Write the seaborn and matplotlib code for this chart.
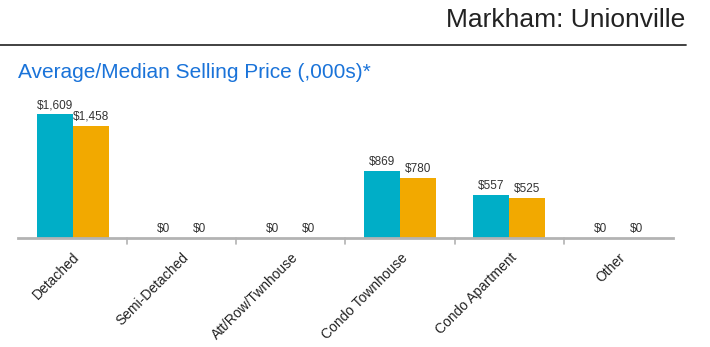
import matplotlib
matplotlib.use("Agg")
import matplotlib.pyplot as plt
import seaborn as sns
import pandas as pd
from matplotlib.lines import Line2D

categories = ["Detached", "Semi-Detached", "Att/Row/Twnhouse", "Condo Townhouse", "Condo Apartment", "Other"]
average_price = [1609, 0, 0, 869, 557, 0]
median_price = [1458, 0, 0, 780, 525, 0]
series_names = ["Average", "Median"]
title_text = "Markham: Unionville"
subtitle_text = "Average/Median Selling Price (,000s)*"

sns.set_theme(style="white")
plt.rcParams['font.family'] = ['Liberation Sans', 'DejaVu Sans']

df = pd.DataFrame({
    "category": categories * 2,
    "value": average_price + median_price,
    "series": [series_names[0]] * len(categories) + [series_names[1]] * len(categories),
})

W, H = 710, 347
fig = plt.figure(figsize=(W / 100, H / 100), dpi=100)
ax_left, ax_right, ax_bottom_px, ax_top_px = 18, 673, 238, 100
ax = fig.add_axes([ax_left / W, 1 - ax_bottom_px / H, (ax_right - ax_left) / W, (ax_bottom_px - ax_top_px) / H])

sns.barplot(data=df, x="category", y="value", hue="series", order=categories,
            hue_order=series_names, palette=["#00aec7", "#f2a900"], width=0.66,
            gap=0, dodge=True, legend=False, ax=ax, saturation=1, linewidth=0)

ax.set_ylim(0, 1790)
ax.set_xlim(-0.5, len(categories) - 0.5)
ax.set_xlabel("")
ax.set_ylabel("")
ax.set_yticks([])
for s in ["top", "right", "left"]:
    ax.spines[s].set_visible(False)
ax.spines["bottom"].set_color("#b3b3b3")
ax.spines["bottom"].set_linewidth(2)

# value labels
for cont in ax.containers:
    ax.bar_label(cont, labels=[f"${v:,.0f}" for v in cont.datavalues],
                 padding=2, fontsize=8.5, color="#333333")

# category separators as ticks
ax.set_xticks(range(len(categories)))
ax.tick_params(axis="x", length=0, pad=9)
ax.set_xticklabels(categories, rotation=45, ha="right", rotation_mode="anchor",
                   fontsize=10, color="#222222")
for b in range(1, len(categories)):
    ax.axvline(b - 0.5, ymin=-0.045, ymax=0, color="#b3b3b3", lw=1.2, clip_on=False)

# header
fig.text(685 / W, 1 - 20 / H, title_text, ha="right", va="center", fontsize=19, color="#222222")
fig.add_artist(Line2D([0, 686 / W], [1 - 45 / H, 1 - 45 / H], color="#333333", lw=1.3))
fig.text(18 / W, 1 - 73 / H, subtitle_text, ha="left", va="center", fontsize=15, color="#1a73d9")

fig.savefig("out.png", dpi=100)
